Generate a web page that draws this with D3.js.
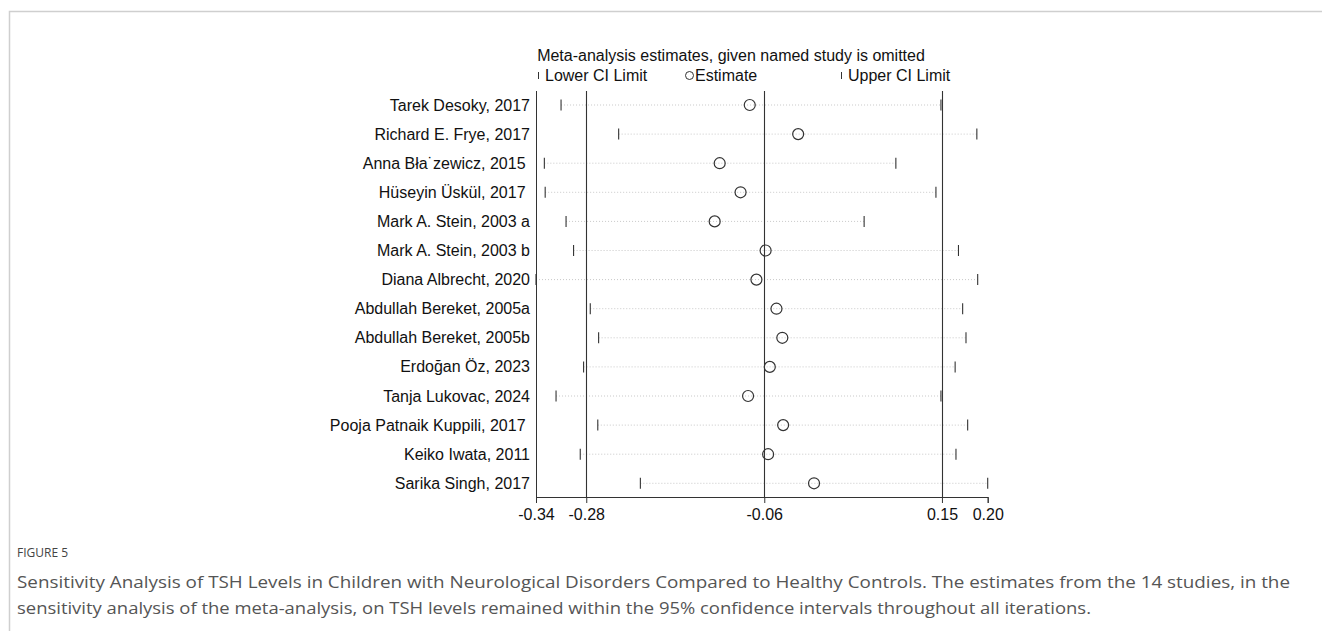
<!DOCTYPE html>
<html>
<head>
<meta charset="utf-8">
<script src="https://cdn.jsdelivr.net/npm/d3@7"></script>
<style>
body{margin:0;background:#fff;}
svg text{font-family:"Liberation Sans",Arial,sans-serif;}
</style>
</head>
<body>
<svg id="chart" width="1322" height="631"></svg>
<script>
// study labels, top to bottom (trailing spaces as in the original)
var studies = ["Tarek Desoky, 2017","Richard E. Frye, 2017","Anna Bła˙zewicz, 2015 ","Hüseyin Üskül, 2017 ",
  "Mark A. Stein, 2003 a","Mark A. Stein, 2003 b","Diana Albrecht, 2020","Abdullah Bereket, 2005a",
  "Abdullah Bereket, 2005b","Erdoğan Öz, 2023","Tanja Lukovac, 2024","Pooja Patnaik Kuppili, 2017 ",
  "Keiko Iwata, 2011","Sarika Singh, 2017"];
// estimate when study omitted, with CI limits
var estimate = [-0.081,-0.023,-0.117,-0.092,-0.123,-0.062,-0.073,-0.049,-0.042,-0.057,-0.083,-0.041,-0.059,-0.004];
var lowerCI  = [-0.307,-0.238,-0.327,-0.326,-0.301,-0.292,-0.337,-0.272,-0.262,-0.280,-0.313,-0.263,-0.284,-0.212];
var upperCI  = [0.148,0.191,0.094,0.142,0.056,0.169,0.192,0.174,0.178,0.165,0.148,0.180,0.166,0.204];
// overall estimate and CI (vertical lines)
var overall = [-0.2768,-0.0636,0.1492];
// axis ticks: min, overall lower, estimate, upper, max
var tickVals = [-0.337,-0.2768,-0.0636,0.1492,0.204];

var svg = d3.select("#chart");

//frame of the figure box
svg.append("path").attr("d","M9.5,631 V11.5 H1322")
  .attr("fill","none").attr("stroke","#cfcfcf").attr("stroke-width",1.5);

var x = d3.scaleLinear().domain([-0.337,0.204]).range([536,987.7]);
var y = d3.scalePoint().domain(studies).range([105,483.3]);
var plotTop = 91, plotBottom = 497;

//title and legend
svg.append("text").attr("x",731).attr("y",61).attr("text-anchor","middle")
  .style("font-size","16px").attr("fill","#111")
  .text("Meta-analysis estimates, given named study is omitted");
var leg = svg.append("g").style("font-size","16px").attr("fill","#111");
leg.append("line").attr("x1",538.5).attr("x2",538.5).attr("y1",72).attr("y2",79).attr("stroke","#333");
leg.append("text").attr("x",545).attr("y",81).text("Lower CI Limit");
leg.append("circle").attr("cx",689.5).attr("cy",75.5).attr("r",4).attr("fill","none").attr("stroke","#333");
leg.append("text").attr("x",695).attr("y",81).text("Estimate");
leg.append("line").attr("x1",841.5).attr("x2",841.5).attr("y1",72).attr("y2",79).attr("stroke","#333");
leg.append("text").attr("x",848).attr("y",81).text("Upper CI Limit");

//study labels
svg.append("g").selectAll("text").data(studies).enter().append("text")
  .attr("x",530).attr("y",function(d){return y(d)+5.5;})
  .attr("text-anchor","end").style("font-size","16px").style("white-space","pre")
  .attr("fill","#111").text(function(d){return d;});

//dotted lines for each study
svg.append("g").selectAll("line").data(studies).enter().append("line")
  .attr("x1",function(d,i){return x(lowerCI[i]);})
  .attr("x2",function(d,i){return x(upperCI[i]);})
  .attr("y1",function(d){return y(d);}).attr("y2",function(d){return y(d);})
  .attr("stroke","#c8c8c8").attr("stroke-dasharray","1,2");

//vertical lines of overall estimate and CI
svg.append("g").selectAll("line").data(overall).enter().append("line")
  .attr("x1",function(d){return Math.round(x(d))+0.5;}).attr("x2",function(d){return Math.round(x(d))+0.5;})
  .attr("y1",plotTop).attr("y2",plotBottom).attr("stroke","#333").attr("stroke-width",1.1);

//axes
var fmt = function(d){return d3.format(".2f")(d).replace("\u2212","-");};
var xAxis = d3.axisBottom(x).tickValues(tickVals).tickFormat(fmt).tickSizeOuter(0).tickSize(6);
var gx = svg.append("g").attr("transform","translate(0,"+plotBottom+")").call(xAxis);
gx.select(".domain").attr("stroke","#333");
gx.selectAll(".tick line").attr("stroke","#333");
gx.selectAll(".tick text").style("font-size","16px").attr("fill","#111").attr("dy","0.9em")
  .style("font-family","\"Liberation Sans\",Arial,sans-serif");
svg.append("line").attr("x1",536.5).attr("x2",536.5).attr("y1",plotTop).attr("y2",plotBottom).attr("stroke","#333");

//CI caps
function caps(vals){
  svg.append("g").selectAll("line").data(studies).enter().append("line")
    .attr("x1",function(d,i){return x(vals[i]);}).attr("x2",function(d,i){return x(vals[i]);})
    .attr("y1",function(d){return y(d)-5.5;}).attr("y2",function(d){return y(d)+5.5;})
    .attr("stroke","#333").attr("stroke-width",1.1);
}
caps(lowerCI);
caps(upperCI);

//estimates
svg.append("g").selectAll("circle").data(studies).enter().append("circle")
  .attr("cx",function(d,i){return x(estimate[i]);}).attr("cy",function(d){return y(d);})
  .attr("r",5.5).attr("fill","none").attr("stroke","#333").attr("stroke-width",1.2);

//caption
svg.append("text").attr("x",17).attr("y",557).text("FIGURE 5")
  .style("font-family","\"Open Sans\",sans-serif").style("font-size","12px").attr("fill","#444");
var cap = ["Sensitivity Analysis of TSH Levels in Children with Neurological Disorders Compared to Healthy Controls. The estimates from the 14 studies, in the",
  "sensitivity analysis of the meta-analysis, on TSH levels remained within the 95% confidence intervals throughout all iterations."];
var capW = [1273, 1074];
svg.append("g").selectAll("text").data(cap).enter().append("text")
  .attr("x",17).attr("y",function(d,i){return 588+i*26;})
  .style("font-family","\"Open Sans\",sans-serif").style("font-size","16px").attr("fill","#555")
  .attr("textLength",function(d,i){return capW[i];}).attr("lengthAdjust","spacingAndGlyphs")
  .text(function(d){return d;});
</script>
</body>
</html>
